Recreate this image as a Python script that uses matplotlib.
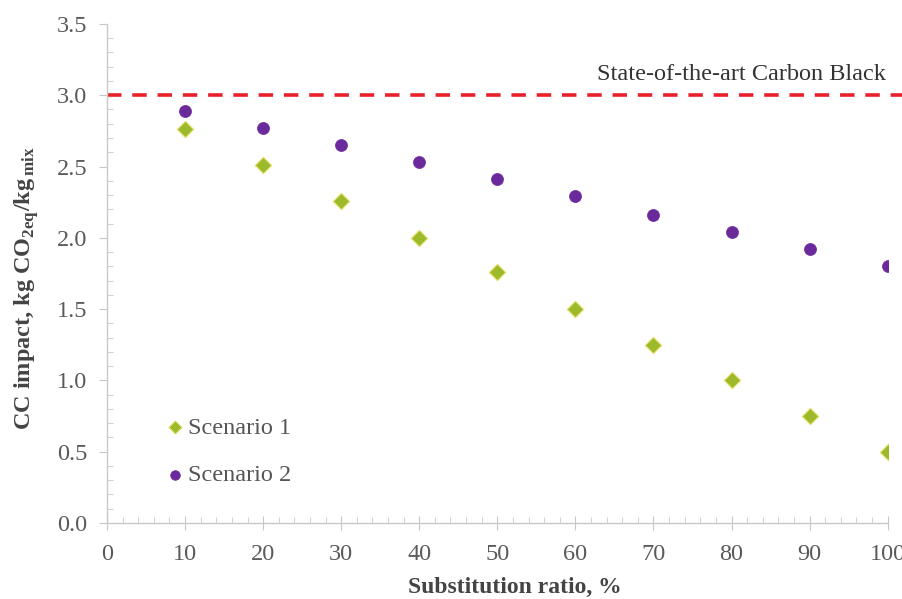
import matplotlib
matplotlib.use("Agg")
import matplotlib.pyplot as plt
from matplotlib.ticker import MultipleLocator

plt.rcParams['font.family'] = ['Liberation Serif', 'DejaVu Serif']
plt.rcParams['mathtext.fontset'] = 'custom'
plt.rcParams['mathtext.rm'] = 'Liberation Serif'
plt.rcParams['mathtext.bf'] = 'Liberation Serif:bold'

# data
ratio = [10, 20, 30, 40, 50, 60, 70, 80, 90, 100]
scenario1 = [2.76, 2.51, 2.26, 2.00, 1.76, 1.50, 1.25, 1.00, 0.75, 0.50]
scenario2 = [2.89, 2.77, 2.65, 2.53, 2.41, 2.29, 2.16, 2.04, 1.92, 1.80]
carbon_black = 3.0

fig = plt.figure(figsize=(9.03, 5.99), dpi=100)
ax = fig.add_axes([0.1185, 0.127, 0.8645, 0.833])

ax.plot([0, 101.9], [carbon_black, carbon_black], color='#e8202a', lw=2.6,
        dashes=(4, 3), clip_on=False, zorder=1)
ax.text(99.8, 3.075, 'State-of-the-art Carbon Black', ha='right', va='bottom',
        fontsize=17.5, color='#333333')

ax.scatter(ratio, scenario1, marker='D', s=70, color='#9cba2a',
           edgecolors='#e8e070', linewidths=0.8, label='Scenario 1', zorder=3)
ax.scatter(ratio, scenario2, marker='o', s=75, color='#6b2a9c',
           edgecolors='#6b2a9c', linewidths=0.5, label='Scenario 2', zorder=3)

ax.set_xlim(0, 100)
ax.set_ylim(0, 3.5)
ax.xaxis.set_major_locator(MultipleLocator(10))
ax.xaxis.set_minor_locator(MultipleLocator(2))
ax.yaxis.set_major_locator(MultipleLocator(0.5))
ax.yaxis.set_minor_locator(MultipleLocator(0.1))
ax.yaxis.set_major_formatter(plt.FuncFormatter(lambda v, p: f'{v:.1f}'))

for s in ['top', 'right']:
    ax.spines[s].set_visible(False)
for s in ['left', 'bottom']:
    ax.spines[s].set_color('#c8c8c8')
    ax.spines[s].set_linewidth(1.0)

ax.tick_params(axis='x', which='major', direction='inout', length=10, color='#c8c8c8',
               labelsize=17.5, labelcolor='#5a5a5a', pad=10)
ax.tick_params(axis='x', which='minor', direction='in', length=4, color='#c8c8c8')
ax.tick_params(axis='y', which='major', direction='out', length=6, color='#c8c8c8',
               labelsize=17.5, labelcolor='#5a5a5a', pad=8)
ax.tick_params(axis='y', which='minor', direction='in', length=4, color='#c8c8c8')

ax.set_xlabel('Substitution ratio, %', fontsize=17, fontweight='bold', color='#444444')
ax.xaxis.set_label_coords(0.523, -0.108)
ax.set_ylabel(r'CC impact, kg CO$_{\mathbf{2eq}}$/kg$_{\,\mathbf{mix}}$', fontsize=17.5,
              fontweight='bold', color='#444444')
ax.yaxis.set_label_coords(-0.085, 0.47)

ax.legend(loc='lower left', bbox_to_anchor=(0.043, 0.03), frameon=False, fontsize=17.5,
          handletextpad=0.05, labelspacing=1.05, markerscale=0.8, labelcolor='#555555',
          handlelength=1.0)

fig.savefig('out.png', dpi=100)
